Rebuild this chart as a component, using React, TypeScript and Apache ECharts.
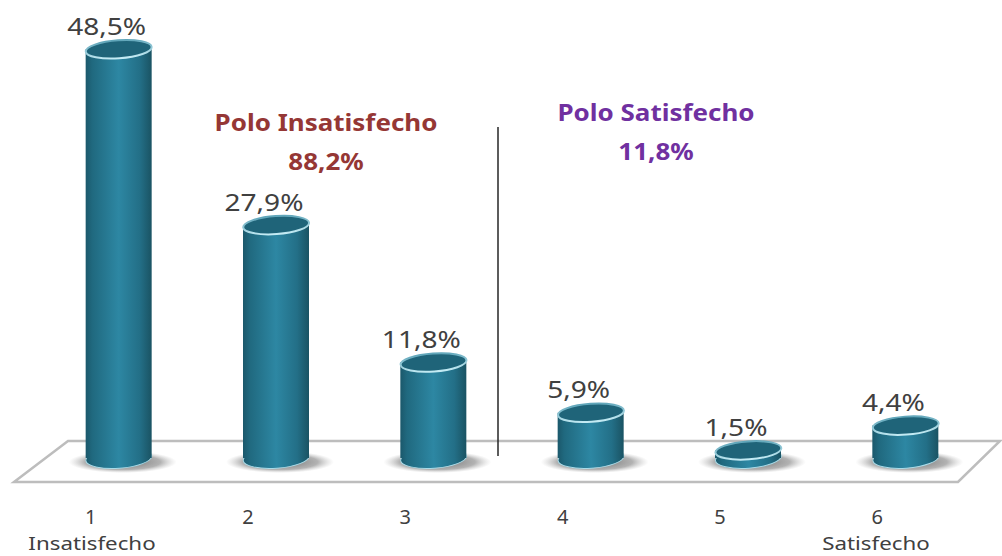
import React, { useEffect, useRef } from "react";
import * as echarts from "echarts";

const categories = ["1", "2", "3", "4", "5", "6"];
const poleLabels = ["Insatisfecho", "Satisfecho"];
const values = [48.5, 27.9, 11.8, 5.9, 1.5, 4.4];
const valueLabels = ["48,5%", "27,9%", "11,8%", "5,9%", "1,5%", "4,4%"];

const FONT = "'Noto Sans', sans-serif";
const TEXT = "#404040";

export default function App() {
  const ref = useRef<HTMLDivElement>(null);
  useEffect(() => {
    const chart = echarts.init(ref.current!, null, { renderer: "svg" });
    const renderItem = (params: any, api: any) => {
      const i = api.value(0);
      const v = api.value(1);
      const top = api.coord([i, v]);
      const zero = api.coord([i, 0]);
      const cx = top[0];
      const baseY = zero[1] - 5;
      const rx = 33;
      const ry = 9;
      const tilt = 0.07;
      const bodyFill = new echarts.graphic.LinearGradient(0, 0, 1, 0, [
        { offset: 0, color: "#1b586b" },
        { offset: 0.1, color: "#20697f" },
        { offset: 0.5, color: "#2d87a3" },
        { offset: 0.82, color: "#236f87" },
        { offset: 1, color: "#1a5363" },
      ]);
      return {
        type: "group",
        children: [
          {
            type: "ellipse",
            shape: { cx: cx + 4, cy: zero[1] - 1, rx: 54, ry: 11 },
            style: {
              fill: new echarts.graphic.RadialGradient(0.5, 0.5, 0.5, [
                { offset: 0, color: "rgba(80,80,80,0.85)" },
                { offset: 0.7, color: "rgba(115,115,115,0.55)" },
                { offset: 1, color: "rgba(170,170,170,0)" },
              ]),
            },
          },
          {
            type: "ellipse",
            shape: { cx, cy: baseY, rx, ry: ry + 1 },
            rotation: tilt,
            originX: cx,
            originY: baseY,
            style: { fill: bodyFill, stroke: "#a9dbe8", lineWidth: 1 },
          },
          {
            type: "rect",
            shape: { x: cx - rx, y: top[1], width: rx * 2, height: Math.max(baseY - top[1], 0) },
            style: { fill: bodyFill },
          },
          {
            type: "ellipse",
            shape: { cx, cy: top[1], rx, ry },
            rotation: tilt,
            originX: cx,
            originY: top[1],
            style: {
              fill: "#1f6479",
              stroke: new echarts.graphic.LinearGradient(0, 0, 0, 1, [
                { offset: 0, color: "#5fa5b9" },
                { offset: 1, color: "#c4ebf4" },
              ]),
              lineWidth: 2,
            },
          },
          {
            type: "text",
            x: cx - 12,
            y: top[1] - 23,
            scaleX: 1.22,
            style: {
              text: valueLabels[i],
              x: 0,
              y: 0,
              align: "center",
              verticalAlign: "middle",
              fontFamily: FONT,
              fontSize: 23,
              fill: TEXT,
            },
          },
        ],
      };
    };

    chart.setOption({
      animation: false,
      backgroundColor: "#ffffff",
      grid: { left: 40, right: 18, top: 36.5, bottom: 93, outerBoundsMode: "none" },
      xAxis: {
        type: "category",
        data: categories,
        axisLine: { show: false },
        axisTick: { show: false },
        axisLabel: {
          interval: 0,
          margin: 43,
          padding: [0, 56, 0, 0],
          lineHeight: 20,
          fontFamily: FONT,
          fontSize: 20,
          color: TEXT,
        },
      },
      yAxis: { type: "value", min: 0, max: 50, show: false },
      graphic: [
        {
          type: "polygon",
          z: -10,
          shape: { points: [[14, 482], [68, 441], [1000, 441], [958, 482]] },
          style: { fill: "#ffffff", stroke: "#bdbdbd", lineWidth: 2.5, lineJoin: "miter" },
        },
        {
          type: "line",
          z: 50,
          shape: { x1: 498, y1: 127, x2: 498, y2: 456 },
          style: { stroke: "#262626", lineWidth: 1.5 },
        },
        ...poleLabels.map((text, k) => ({
          type: "text",
          z: 50,
          x: k === 0 ? 92 : 876,
          y: 543,
          scaleX: 1.24,
          style: {
            text,
            x: 0,
            y: 0,
            align: "center",
            verticalAlign: "middle",
            fontFamily: FONT,
            fontSize: 18,
            fill: TEXT,
          },
        })),
        ...[
          { text: "Polo Insatisfecho", x: 326, y: 122, fill: "#953735" },
          { text: "88,2%", x: 326, y: 161, fill: "#953735" },
          { text: "Polo Satisfecho", x: 656, y: 112, fill: "#7030a0" },
          { text: "11,8%", x: 656, y: 151, fill: "#7030a0" },
        ].map((t) => ({
          type: "text",
          z: 50,
          x: t.x,
          y: t.y,
          scaleX: 1.13,
          style: {
            text: t.text,
            x: 0,
            y: 0,
            align: "center",
            verticalAlign: "middle",
            fontFamily: FONT,
            fontWeight: "bold",
            fontSize: 23,
            fill: t.fill,
          },
        })),
      ],
      series: [
        {
          type: "custom",
          coordinateSystem: "cartesian2d",
          renderItem,
          clip: false,
          data: values.map((v, i) => [i, v]),
          encode: { x: 0, y: 1 },
        },
      ],
    });
    return () => chart.dispose();
  }, []);
  return <div ref={ref} style={{ width: 1002, height: 556, position: "absolute", left: 0, top: 0 }} />;
}
